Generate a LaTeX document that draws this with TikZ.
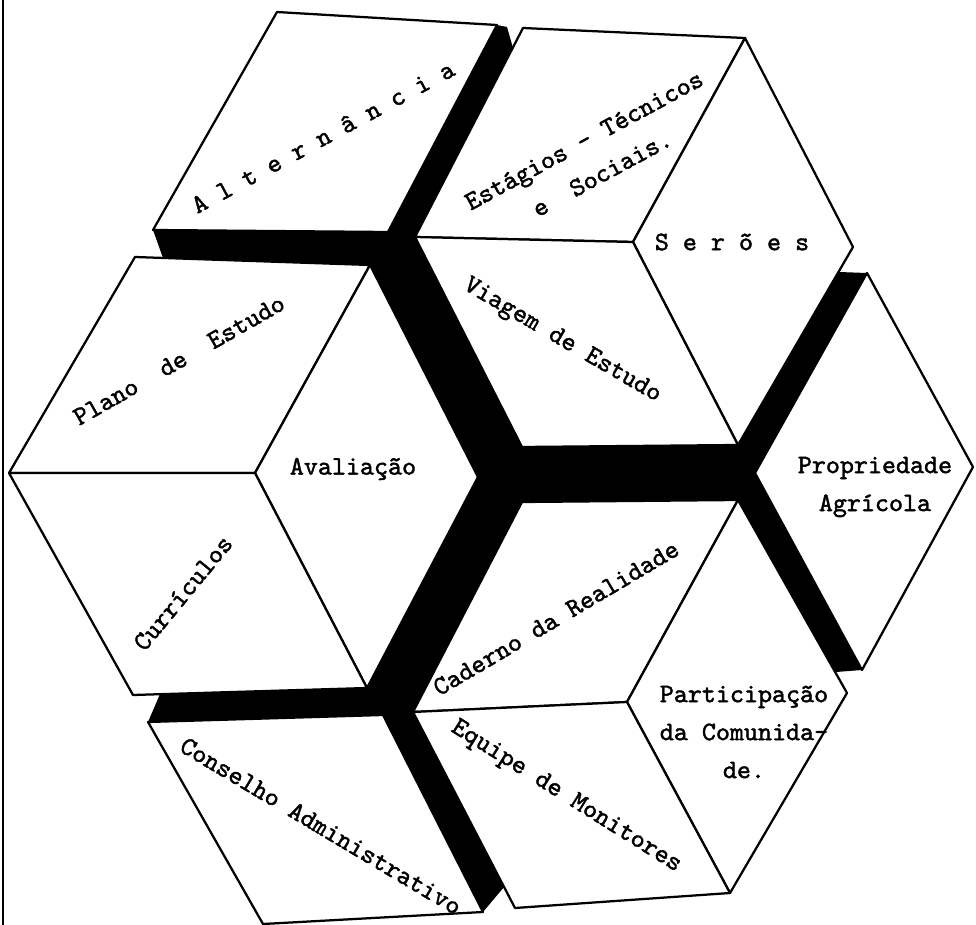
\documentclass[tikz,border=0pt]{standalone}
\usepackage{fontspec}
\setmonofont{lmmono10-regular.otf}[FakeBold=1.6]
\begin{document}
\begin{tikzpicture}[
    x=0.025cm, y=-0.025cm,
    face/.style={draw=black, fill=white, line width=1.6pt, line join=round},
    band/.style={fill=black},
    lbl/.style={font=\ttfamily\fontsize{19}{27}\selectfont, inner sep=0pt, align=center}
]
\useasboundingbox (0,0) rectangle (976,925);
\coordinate (edgetop) at (3,0);
\coordinate (edgebot) at (3,925);
\draw[line width=1.6pt] (edgetop) -- (edgebot);

% corners of the pieces
\coordinate (al1) at (277,12);  \coordinate (al2) at (497,25);
\coordinate (al3) at (388,232); \coordinate (al4) at (153,230);
\coordinate (es1) at (523,28);  \coordinate (es2) at (745,38);
\coordinate (es3) at (633,242); \coordinate (es4) at (415,237);
\coordinate (sr2) at (853,247); \coordinate (sr3) at (738,445);
\coordinate (vg4) at (522,447);
\coordinate (pl1) at (135,257); \coordinate (pl2) at (370,265);
\coordinate (pl3) at (255,473); \coordinate (pl4) at (9,473);
\coordinate (av2) at (478,477); \coordinate (av3) at (367,688);
\coordinate (cu4) at (133,695);
\coordinate (cd1) at (522,502); \coordinate (cd2) at (738,500);
\coordinate (cd3) at (627,702); \coordinate (cd4) at (413,712);
\coordinate (pa2) at (847,693); \coordinate (pa3) at (730,893);
\coordinate (eq4) at (515,908);
\coordinate (pr1) at (867,273); \coordinate (pr2) at (973,467);
\coordinate (pr3) at (862,670); \coordinate (pr4) at (755,473);
\coordinate (co1) at (148,722); \coordinate (co2) at (383,715);
\coordinate (co3) at (483,912); \coordinate (co4) at (263,924);
% ends of the black bands
\coordinate (bt1) at (507,27);  \coordinate (bt2) at (513,48);
\coordinate (ub1) at (163,258); \coordinate (lb1) at (160,694);
\coordinate (sb1) at (839,272); \coordinate (pb1) at (836,672);
\coordinate (cb1) at (504,887);

\fill[band] (al4) -- (al3) -- (al2) -- (bt1) -- (bt2) -- (es4) -- (vg4)
    -- (sr3) -- (sb1) -- (pr1) -- (pr4) -- (pr3) -- (pb1) -- (cd2) -- (cd1)
    -- (cd4) -- (cb1) -- (co3) -- (co2) -- (co1) -- (lb1) -- (av3) -- (av2)
    -- (pl2) -- (ub1) -- cycle;

\draw[face] (al1) -- (al2) -- (al3) -- (al4) -- cycle;
\draw[face] (es1) -- (es2) -- (es3) -- (es4) -- cycle;
\draw[face] (es2) -- (sr2) -- (sr3) -- (es3) -- cycle;
\draw[face] (es4) -- (es3) -- (sr3) -- (vg4) -- cycle;
\draw[face] (pl1) -- (pl2) -- (pl3) -- (pl4) -- cycle;
\draw[face] (pl2) -- (av2) -- (av3) -- (pl3) -- cycle;
\draw[face] (pl4) -- (pl3) -- (av3) -- (cu4) -- cycle;
\draw[face] (cd1) -- (cd2) -- (cd3) -- (cd4) -- cycle;
\draw[face] (cd2) -- (pa2) -- (pa3) -- (cd3) -- cycle;
\draw[face] (cd4) -- (cd3) -- (pa3) -- (eq4) -- cycle;
\draw[face] (pr1) -- (pr2) -- (pr3) -- (pr4) -- cycle;
\draw[face] (co1) -- (co2) -- (co3) -- (co4) -- cycle;

\node[lbl, rotate=28.3] (alt) at (323,137) {A l t e r n â n c i a};
\node[lbl, rotate=28.4] (est) at (593,157) {Estágios - Técnicos\\e\ \ Sociais.};
\node[lbl] (ser) at (732,242) {S e r õ e s};
\node[lbl, rotate=-30.3] (via) at (562,341) {Viagem de Estudo};
\node[lbl, rotate=29.6] (pla) at (179,360) {Plano\ \ de\ \ Estudo};
\node[lbl] (ava) at (353,469) {Avaliação};
\node[lbl, rotate=50.5] (cur) at (183,593) {Currículos};
\node[lbl, rotate=30.6] (cad) at (556,618) {Caderno da Realidade};
\node[lbl] (par) at (744,732) {Participação\\da Comunida-\\de.};
\node[lbl] (pro) at (875,487) {Propriedade\\Agrícola};
\node[lbl, rotate=-32] (equ) at (566,797) {Equipe de Monitores};
\node[lbl, rotate=-30.8] (con) at (321,826) {Conselho Administrativo};
\end{tikzpicture}
\end{document}
